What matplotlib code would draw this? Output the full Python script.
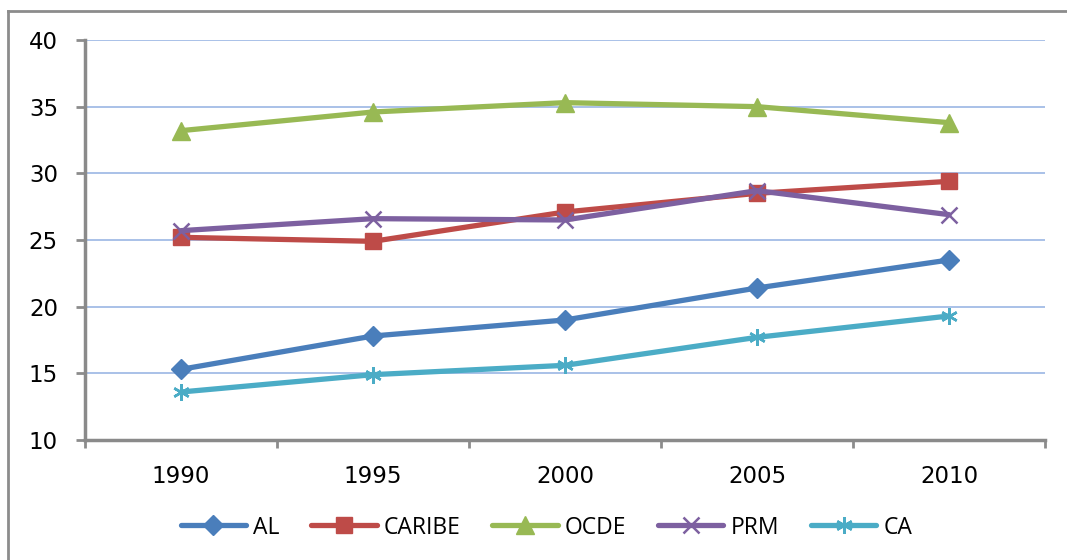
import matplotlib
matplotlib.use('Agg')
import matplotlib.pyplot as plt
from matplotlib.lines import Line2D
import numpy as np

years = ['1990', '1995', '2000', '2005', '2010']
al = [15.3, 17.8, 19.0, 21.4, 23.5]
caribe = [25.2, 24.9, 27.1, 28.5, 29.4]
ocde = [33.2, 34.6, 35.3, 35.0, 33.8]
prm = [25.7, 26.6, 26.5, 28.7, 26.9]
ca = [13.6, 14.9, 15.6, 17.7, 19.3]

series = [
  ('AL', al, '#4A7EBB', 'D', 10),
  ('CARIBE', caribe, '#BE4B48', 's', 12),
  ('OCDE', ocde, '#98B954', '^', 13),
  ('PRM', prm, '#7D60A0', 'x', 12),
  ('CA', ca, '#4BACC6', (6, 2, 0), 12),
]

fig = plt.figure(figsize=(10.67, 5.6), dpi=100)
ax = fig.add_axes([0.0797, 0.2143, 0.8997, 0.7143])

# chart area frame (only left and top show)
fig.add_artist(Line2D([8 / 1067, 8 / 1067], [0, 1 - 11 / 560], color='#8c8c8c', lw=2))
fig.add_artist(Line2D([8 / 1067, 1], [1 - 11 / 560, 1 - 11 / 560], color='#8c8c8c', lw=2))

xs = np.arange(len(years))
for name, vals, col, mk, ms in series:
  mew = 1.8 if mk == 'x' or isinstance(mk, tuple) else 1
  ax.plot(xs, vals, color=col, lw=3.8, marker=mk, ms=ms, mew=mew,
          mec=col, mfc=col, label=name, solid_capstyle='round')

ax.set_xlim(-0.5, 4.5)
ax.set_ylim(10, 40)
ax.set_yticks(range(10, 41, 5))
ax.set_xticks(xs)
ax.set_xticklabels(years)
ax.set_xticks(np.arange(-0.5, 5, 1), minor=True)
ax.tick_params(axis='x', which='major', length=0, pad=18, labelsize=16.5)
ax.tick_params(axis='x', which='minor', length=6, width=2, color='#8c8c8c', direction='out')
ax.tick_params(axis='y', length=6.5, width=2, color='#8c8c8c', direction='out', pad=13, labelsize=16.5)

ax.grid(axis='y', color='#A9C1E8', lw=1.4)
ax.set_axisbelow(True)
for s in ['top', 'right']:
  ax.spines[s].set_visible(False)
for s in ['left', 'bottom']:
  ax.spines[s].set_color('#8a8a8a')
  ax.spines[s].set_linewidth(2.5)

leg = fig.legend(loc='center', bbox_to_anchor=(0.512, 0.058), ncol=5, frameon=False,
                 prop={'family': 'Open Sans', 'size': 16.5}, handlelength=2.85,
                 columnspacing=1.4, handletextpad=0.3)

plt.savefig('out.png', dpi=100)
